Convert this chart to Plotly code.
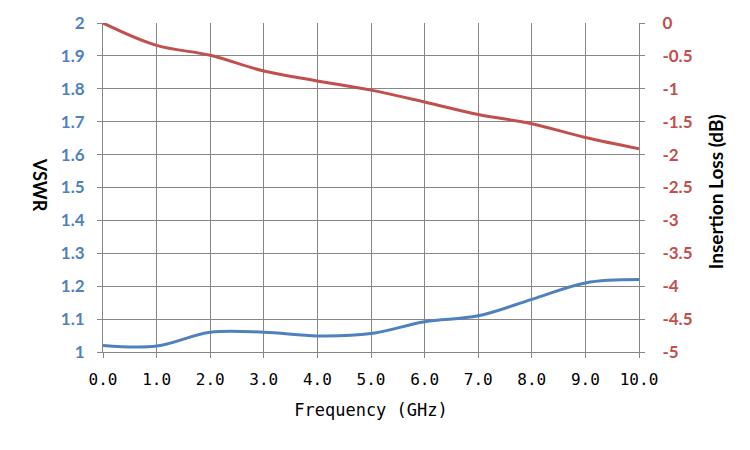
import plotly.graph_objects as go

freq_ghz = [0, 1, 2, 3, 4, 5, 6, 7, 8, 9, 10]
vswr = [1.02, 1.018, 1.06, 1.06, 1.049, 1.056, 1.092, 1.11, 1.16, 1.21, 1.22]
insertion_loss_db = [0, -0.34, -0.49, -0.73, -0.88, -1.02, -1.2, -1.39, -1.53, -1.74, -1.91]

x_ticks = [0, 1, 2, 3, 4, 5, 6, 7, 8, 9, 10]
x_tick_labels = ["0.0", "1.0", "2.0", "3.0", "4.0", "5.0", "6.0", "7.0", "8.0", "9.0", "10.0"]
vswr_ticks = [1, 1.1, 1.2, 1.3, 1.4, 1.5, 1.6, 1.7, 1.8, 1.9, 2]
vswr_tick_labels = ["1", "1.1", "1.2", "1.3", "1.4", "1.5", "1.6", "1.7", "1.8", "1.9", "2"]
il_ticks = [-5, -4.5, -4, -3.5, -3, -2.5, -2, -1.5, -1, -0.5, 0]
il_tick_labels = ["-5", "-4.5", "-4", "-3.5", "-3", "-2.5", "-2", "-1.5", "-1", "-0.5", "0"]

BLUE = "#4F81BD"
RED = "#C0504D"
GRID = "#868686"

fig = go.Figure()
fig.add_trace(go.Scatter(x=freq_ghz, y=vswr, mode="lines", name="VSWR",
                         line=dict(color=BLUE, width=3, shape="spline", smoothing=1)))
fig.add_trace(go.Scatter(x=freq_ghz, y=insertion_loss_db, mode="lines", name="Insertion Loss",
                         yaxis="y2",
                         line=dict(color=RED, width=3, shape="spline", smoothing=1)))

fig.update_layout(
    width=750, height=450,
    margin=dict(l=95, r=119, t=15, b=106, autoexpand=False),
    paper_bgcolor="white", plot_bgcolor="white",
    showlegend=False,
    xaxis=dict(
        range=[0, 10], tickvals=x_ticks, ticktext=x_tick_labels,
        showgrid=True, gridcolor=GRID, gridwidth=1,
        showline=True, linecolor=GRID, linewidth=1,
        ticks="outside", ticklen=5, tickcolor=GRID, ticklabelstandoff=8,
        tickfont=dict(family="DejaVu Sans Mono", size=16, color="#000000"),
        title=dict(text="Frequency (GHz)", standoff=15,
                   font=dict(family="DejaVu Sans Mono", size=17, color="#000000")),
        zeroline=False,
    ),
    yaxis=dict(
        range=[1, 2], tickvals=vswr_ticks, ticktext=vswr_tick_labels,
        showgrid=True, gridcolor=GRID, gridwidth=1,
        showline=True, linecolor=GRID, linewidth=1,
        ticks="outside", ticklen=5, tickcolor=GRID, ticklabelstandoff=9,
        tickfont=dict(family="Lato", size=17, color=BLUE, weight="bold"),
        zeroline=False,
    ),
    yaxis2=dict(
        range=[-5, 0], tickvals=il_ticks, ticktext=il_tick_labels,
        overlaying="y", side="right",
        showgrid=False,
        showline=True, linecolor=GRID, linewidth=1,
        ticks="outside", ticklen=5, tickcolor=GRID, ticklabelstandoff=14,
        tickfont=dict(family="Lato", size=17, color=RED, weight="bold"),
        zeroline=False,
    ),
    annotations=[
        dict(text="VSWR", xref="paper", yref="paper", x=-0.1175, y=0.508,
             showarrow=False, textangle=90, xanchor="center", yanchor="middle",
             font=dict(family="Lato", size=18, color="#000000", weight="bold")),
        dict(text="Insertion Loss (dB)", xref="paper", yref="paper", x=1.142, y=0.486,
             showarrow=False, textangle=-90, xanchor="center", yanchor="middle",
             font=dict(family="Lato", size=19, color="#000000", weight="bold")),
    ],
)

fig.write_html("out.html")
